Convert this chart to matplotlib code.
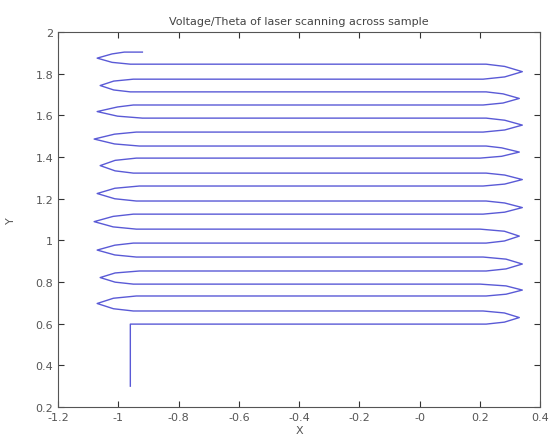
import matplotlib
matplotlib.use('Agg')
import matplotlib.pyplot as plt
from matplotlib.ticker import FuncFormatter
import numpy as np

# scan line heights (bottom to top), alternate direction starting rightwards
line_y = [0.598, 0.661, 0.733, 0.790, 0.853, 0.920, 0.987, 1.054, 1.126, 1.189,
          1.261, 1.323, 1.395, 1.453, 1.520, 1.587, 1.650, 1.713, 1.774, 1.846]
left_end = [-0.96, -0.95, -0.94, -0.95, -0.93, -0.94, -0.95, -0.94, -0.95, -0.94,
            -0.93, -0.95, -0.94, -0.93, -0.94, -0.92, -0.95, -0.96, -0.95, -0.96]
right_end = [0.22, 0.21, 0.22, 0.20, 0.22, 0.21, 0.22, 0.20, 0.21, 0.22,
             0.21, 0.22, 0.20, 0.22, 0.21, 0.22, 0.21, 0.22, 0.21, 0.22]
# loop tips between consecutive lines
left_tip = [-1.07, -1.06, -1.07, -1.08, -1.07, -1.06, -1.08, -1.07, -1.06, -1.07]
right_tip = [0.33, 0.34, 0.34, 0.33, 0.34, 0.34, 0.33, 0.34, 0.33, 0.34]

start_x = -0.96
start_y = 0.30
top_y = 1.904
top_end = -0.92

def main():
    plt.close()
    fig = plt.figure(figsize=(5.52, 4.39), dpi=100)
    ax = fig.add_axes([0.105, 0.0706, 0.874, 0.854])

    xs = [start_x, start_x]
    ys = [start_y, line_y[0]]
    li = ri = 0
    for i, y in enumerate(line_y):
        if i % 2 == 0:
            xs += [left_end[i] if i else start_x, right_end[i]]
            ys += [y, y]
            nxt = line_y[i + 1] if i + 1 < len(line_y) else y
            tip = right_tip[ri]; ri += 1
            end = right_end[i]
        else:
            xs += [right_end[i], left_end[i]]
            ys += [y, y]
            nxt = line_y[i + 1] if i + 1 < len(line_y) else top_y
            tip = left_tip[li]; li += 1
            end = left_end[i]
        dy = nxt - y
        mid = end + 0.55 * (tip - end)
        xs += [mid, tip, mid]
        ys += [y + 0.15 * dy, y + 0.5 * dy, y + 0.85 * dy]
    xs += [left_end[-1] - 0.02, top_end]
    ys += [top_y, top_y]

    ax.plot(xs, ys, color='#5a5ad6', lw=1.0)

    ax.set_xlim(-1.2, 0.4)
    ax.set_ylim(0.2, 2.0)
    ax.set_xticks(np.arange(-1.2, 0.41, 0.2))
    ax.set_yticks(np.arange(0.2, 2.01, 0.2))
    fmt = FuncFormatter(lambda v, p: '%g' % round(v, 2))
    ax.xaxis.set_major_formatter(fmt)
    ax.yaxis.set_major_formatter(fmt)
    ax.tick_params(direction='in', top=True, right=True, labelsize=8,
                   length=4, width=0.8, colors='#333333', labelcolor='#555555')
    for s in ax.spines.values():
        s.set_color('#555555')
        s.set_linewidth(0.8)

    ax.set_title('Voltage/Theta of laser scanning across sample',
                 fontsize=8, color='#444444', pad=6)
    ax.set_ylabel('Y', fontsize=8, color='#555555', labelpad=14)
    ax.set_xlabel('X', fontsize=8, color='#555555', labelpad=2)

    fig.savefig('out.png', dpi=100)


if __name__ == '__main__':
    main()
